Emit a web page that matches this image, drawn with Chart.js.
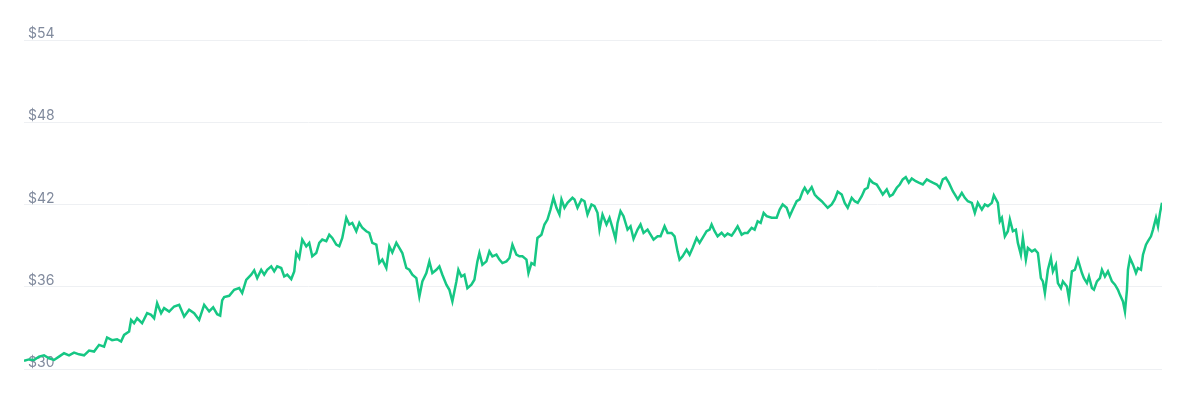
<!DOCTYPE html>
<html>
<head>
<meta charset="utf-8">
<title>Price chart</title>
<script src="https://cdn.jsdelivr.net/npm/chart.js@4.4.1/dist/chart.umd.min.js"></script>
<style>
  html, body { margin: 0; padding: 0; background: #fff; }
  #wrap { width: 1184px; height: 420px; }
</style>
</head>
<body>
<div id="wrap"><canvas id="price" width="1184" height="420"></canvas></div>
<script>
// hour index of each reading
const hours = [
  0, 5, 10, 15, 20, 25, 30, 35, 40, 45, 50, 55, 60, 65, 70, 75, 80, 83, 88, 93, 97, 100, 105, 107, 110, 113, 118, 123, 127, 130,
  133, 137, 140, 145, 150, 155, 160, 165, 170, 175, 180, 185, 189, 193, 196, 198, 200,
  205, 210, 215, 218, 222, 227, 230, 233, 237, 240, 243, 247, 250, 253, 257, 260, 263, 267, 270, 272, 275, 278, 282, 285, 288,
  292, 295, 298, 302, 305, 308, 312, 315, 318, 322, 325, 328, 332, 335, 338, 342, 345, 348, 352, 355, 358, 362, 365, 368, 372,
  375, 378, 382, 385, 388, 392, 395, 398, 402, 405, 408, 412, 415, 418, 422, 425, 428, 432, 434, 437, 440, 443, 447, 450, 453,
  455, 458, 462, 465, 468, 472, 475, 478, 482, 485, 488, 492, 495, 498, 502, 504, 507, 510, 513, 517, 520, 523, 526, 529, 532,
  535, 537, 540, 543, 548,
  550, 553, 557, 560, 563, 567, 570, 573, 575, 578, 582, 585, 588, 591, 593, 596, 599, 603, 606, 609, 613, 616, 619, 623, 626,
  629, 633, 636, 640, 643, 647, 650, 653, 655, 658, 662, 665, 668, 672, 675, 678, 682, 685, 687, 690, 693, 697, 700, 703, 707,
  710, 713, 717, 720, 723, 727, 730, 733, 736, 739,
  742, 747, 752, 755, 758, 762, 765, 768, 772, 775, 778, 780, 783, 787, 790, 793, 797, 800, 803, 807, 810, 813, 817, 820, 823,
  827, 830, 833, 837, 840, 843, 845, 848, 852, 855, 858, 862, 865, 868, 872, 875, 878, 881, 884, 887, 891, 894, 898, 902, 905,
  908, 912, 915, 918, 921, 924,
  928, 933, 937, 940, 943, 947, 950, 953, 957, 960, 963, 967, 969, 973, 975, 977, 980, 983, 985, 988, 991, 993, 996, 998, 1001,
  1003, 1007, 1010, 1013, 1016, 1018, 1020, 1023, 1026, 1028, 1031, 1033, 1036, 1038, 1042, 1044, 1047, 1050, 1053, 1057, 1059,
  1062, 1064, 1067, 1069, 1072, 1075, 1077, 1080, 1083, 1087, 1090, 1093, 1095, 1098, 1100, 1102, 1103, 1105, 1108, 1111, 1113,
  1116, 1118, 1121, 1123, 1126, 1128, 1131, 1133, 1135, 1137
];

// price in USD at each reading
const prices = [
  30.59, 30.70, 30.66, 30.90, 31.00, 30.78, 30.66, 30.90, 31.15, 31.00, 31.20, 31.07, 31.00, 31.34, 31.27, 31.76, 31.63, 32.30,
  32.10, 32.17, 32.00, 32.49, 32.73, 33.58, 33.34, 33.70, 33.34, 34.07, 33.95, 33.70, 34.80, 34.07, 34.44, 34.19, 34.56, 34.68,
  33.83, 34.32, 34.07, 33.58, 34.68, 34.20, 34.50, 34.00, 33.90, 35.00, 35.25,
  35.34, 35.78, 35.90, 35.54, 36.50, 36.88, 37.20, 36.63, 37.24, 36.88, 37.24, 37.49, 37.12, 37.49, 37.37, 36.75, 36.88, 36.56,
  37.12, 38.46, 38.10, 39.44, 38.95, 39.20, 38.22, 38.46, 39.20, 39.44, 39.32, 39.80, 39.56, 39.07, 38.95, 39.56, 41.03, 40.54,
  40.66, 40.05, 40.66, 40.30, 40.05, 39.93, 39.20, 39.07, 37.73, 37.98, 37.37, 38.95, 38.50, 39.20, 38.83, 38.46, 37.37, 37.24,
  36.88, 36.63, 35.29, 36.39, 37.00, 37.85, 37.00, 37.24, 37.49, 36.88, 36.15, 35.78, 34.93, 36.39, 37.24, 36.75, 36.88, 35.90,
  36.15, 36.51, 37.85, 38.46, 37.61, 37.85, 38.58, 38.22, 38.34, 37.98, 37.73, 37.85, 38.10, 39.07, 38.34, 38.22, 38.22, 37.98,
  37.00, 37.73, 37.61, 39.56, 39.80, 40.54, 40.90, 41.63, 42.49, 41.76, 41.27, 42.37, 41.76, 42.12, 42.49,
  42.37, 41.76, 42.37, 42.24, 41.27, 42.00, 41.88, 41.39, 40.17, 41.27, 40.54, 41.03, 40.30, 39.49, 40.66, 41.51, 41.15, 40.17,
  40.41, 39.49, 40.17, 40.54, 39.93, 40.17, 39.80, 39.44, 39.68, 39.68, 40.41, 39.93, 39.93, 39.68, 38.58, 37.98, 38.22, 38.71,
  38.34, 38.83, 39.56, 39.20, 39.56, 40.05, 40.17, 40.54, 40.05, 39.68, 39.93, 39.68, 39.88, 39.73, 40.05, 40.41, 39.80, 39.93,
  39.93, 40.30, 40.17, 40.78, 40.66, 41.39,
  41.15, 41.03, 41.03, 41.63, 42.00, 41.76, 41.15, 41.63, 42.24, 42.37, 42.97, 43.22, 42.85, 43.27, 42.73, 42.49, 42.24, 42.00,
  41.76, 42.00, 42.37, 42.93, 42.73, 42.12, 41.76, 42.49, 42.24, 42.12, 42.61, 43.10, 43.22, 43.83, 43.59, 43.46, 43.10, 42.73,
  43.10, 42.61, 42.73, 43.22, 43.46, 43.83, 44.00, 43.59, 43.90, 43.70, 43.59, 43.46, 43.83, 43.70, 43.59, 43.46, 43.22, 43.83,
  43.95, 43.59,
  42.97, 42.37, 42.85, 42.49, 42.24, 42.12, 41.39, 42.12, 41.63, 42.00, 41.88, 42.12, 42.66, 42.12, 40.78, 41.03, 39.68, 40.05,
  40.90, 40.05, 40.17, 39.20, 38.34, 39.56, 37.98, 38.83, 38.58, 38.71, 38.46, 36.63, 36.39, 35.54, 37.24, 38.10, 37.12, 37.61,
  36.27, 35.90, 36.39, 36.02, 35.17, 37.12, 37.24, 37.98, 37.00, 36.63, 36.27, 36.75, 35.90, 35.78, 36.39, 36.63, 37.24, 36.75,
  37.12, 36.39, 36.15, 35.78, 35.41, 34.93, 34.19, 35.78, 37.24, 38.10, 37.61, 37.00, 37.37, 37.24, 38.34, 39.07, 39.32, 39.68,
  40.17, 41.03, 40.41, 41.39, 42.12
];

const yTicks = [30, 36, 42, 48, 54];

const points = hours.map((h, i) => ({ x: h, y: prices[i] }));

new Chart(document.getElementById('price'), {
  type: 'line',
  data: {
    datasets: [
      {
        label: 'Price',
        data: points,
        borderColor: '#16c784',
        borderWidth: 2.5,
        pointRadius: 0,
        tension: 0,
        fill: false
      }
    ]
  },
  options: {
    responsive: false,
    animation: false,
    layout: {
      padding: { left: 16, right: 22, top: 40, bottom: 51 }
    },
    plugins: {
      legend: { display: false },
      tooltip: { enabled: false }
    },
    scales: {
      x: {
        type: 'linear',
        min: hours[0],
        max: hours[hours.length - 1],
        display: false
      },
      y: {
        min: yTicks[0],
        max: yTicks[yTicks.length - 1],
        afterBuildTicks: function (axis) {
          axis.ticks = yTicks.map(v => ({ value: v }));
        },
        border: { display: false },
        grid: {
          color: '#eef0f3',
          drawTicks: false
        },
        ticks: {
          mirror: true,
          padding: 4,
          labelOffset: -6,
          color: '#808a9d',
          font: { family: 'Inter', size: 14 },
          callback: function (value) {
            return '$' + value;
          }
        }
      }
    }
  }
});
</script>
</body>
</html>
